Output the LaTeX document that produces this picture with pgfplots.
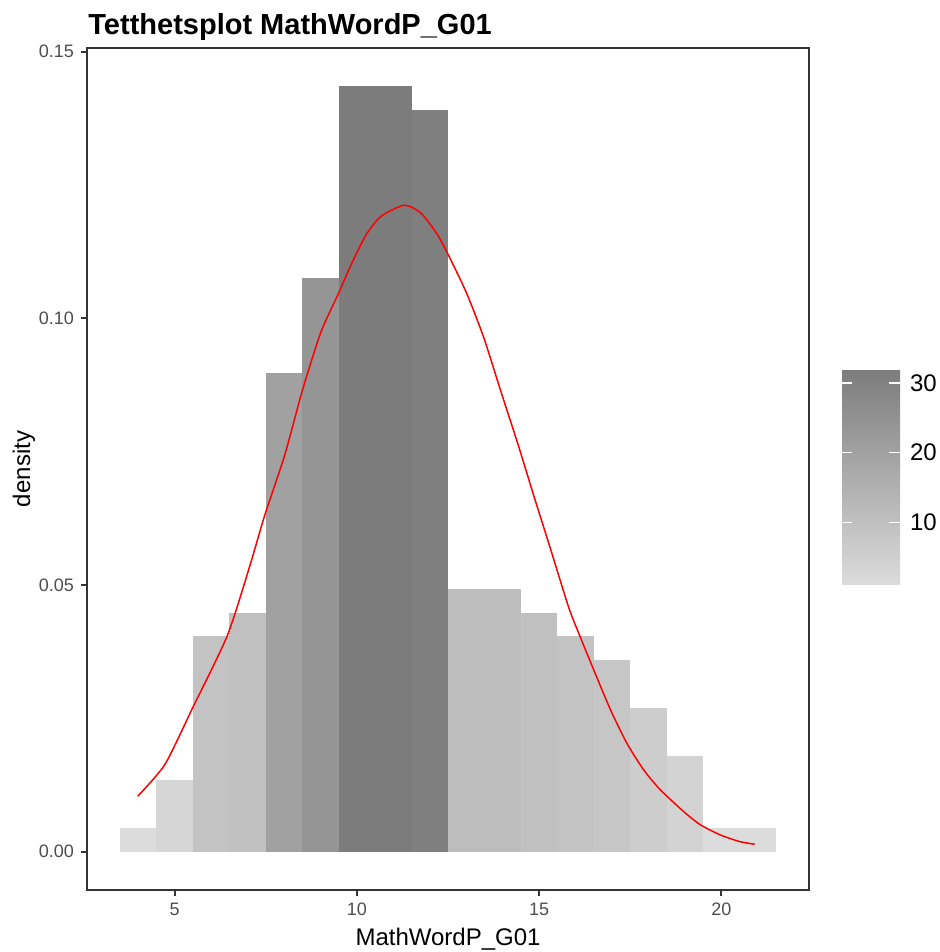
\documentclass[border=0pt]{standalone}
\usepackage{fontspec}
\setmainfont{Liberation Sans}
\usepackage{pgfplots}
\pgfplotsset{compat=1.18}
\definecolor{axgrey}{HTML}{333333}
\definecolor{tickgrey}{HTML}{4D4D4D}
\definecolor{cA}{RGB}{220,220,220}
\definecolor{cB}{RGB}{214,214,214}
\definecolor{cC}{RGB}{211,211,211}
\definecolor{cD}{RGB}{205,205,205}
\definecolor{cE}{RGB}{198,198,198}
\definecolor{cF}{RGB}{195,195,195}
\definecolor{cG}{RGB}{192,192,192}
\definecolor{cH}{RGB}{189,189,189}
\definecolor{cI}{RGB}{161,161,161}
\definecolor{cJ}{RGB}{149,149,149}
\definecolor{cK}{RGB}{127,127,127}
\definecolor{cL}{RGB}{124,124,124}
\pgfplotsset{/pgf/number format/assume math mode=true}
\begin{document}
\begin{tikzpicture}
\useasboundingbox (0,0) rectangle (469.5pt,476pt);
\node[anchor=base west, font=\bfseries\fontsize{14.5}{16}\selectfont, inner sep=0pt] at (44pt,458.5pt) {Tetthetsplot MathWordP\_G01};
\begin{axis}[
  at={(43.5pt,31pt)}, anchor=south west,
  scale only axis, width=361pt, height=421pt,
  xmin=2.6, xmax=22.4, ymin=-0.007175, ymax=0.150673,
  xtick={5,10,15,20}, ytick={0,0.05,0.1,0.15},
  tick align=outside, xtick pos=bottom, ytick pos=left,
  major tick length=3pt,
  every tick/.style={axgrey, line width=1pt},
  axis line style={axgrey, line width=1pt},
  ticklabel style={font=\fontsize{9}{10}\selectfont, text=tickgrey},
  yticklabel style={/pgf/number format/.cd, fixed, fixed zerofill, precision=2},
  xlabel={MathWordP\_G01}, ylabel={density},
  label style={font=\fontsize{12}{14}\selectfont},
  xlabel style={at={(axis description cs:0.5,-0.0665)}, anchor=base},
  ylabel style={at={(axis description cs:-0.0873,0.5)}, anchor=center},
  colormap={ggrey}{rgb255=(220,220,220) rgb255=(124,124,124)},
  point meta min=1, point meta max=32,
  colorbar,
  colorbar/width=29pt,
  colorbar style={
    at={(parent axis.south east)}, anchor=south west,
    xshift=8pt, yshift=152.5pt,
    scale only axis, width=29pt, height=108pt,
    ytick={10,20,30}, ytick pos=both, yticklabel pos=right,
    tick align=inside, major tick length=5pt,
    every tick/.style={white, line width=0.75pt},
    axis line style={draw=none},
    axis on top,
    yticklabel style={font=\fontsize{12}{14}\selectfont, text=black, xshift=1.5pt},
    after end axis/.code={
      \draw[white, line width=0.75pt] (rel axis cs:1,0.2903) -- ++(-5.5pt,0);
      \draw[white, line width=0.75pt] (rel axis cs:1,0.6129) -- ++(-5.5pt,0);
      \draw[white, line width=0.75pt] (rel axis cs:1,0.9355) -- ++(-5.5pt,0);
    },
  },
]
\addplot[ybar, bar width=1, bar shift=0, draw=none, fill=cA] coordinates {(4,0.004484)};
\addplot[ybar, bar width=1, bar shift=0, draw=none, fill=cB] coordinates {(5,0.013453)};
\addplot[ybar, bar width=1, bar shift=0, draw=none, fill=cF] coordinates {(6,0.040359)};
\addplot[ybar, bar width=1, bar shift=0, draw=none, fill=cG] coordinates {(7,0.044843)};
\addplot[ybar, bar width=1, bar shift=0, draw=none, fill=cI] coordinates {(8,0.089686)};
\addplot[ybar, bar width=1, bar shift=0, draw=none, fill=cJ] coordinates {(9,0.107623)};
\addplot[ybar, bar width=1, bar shift=0, draw=none, fill=cL] coordinates {(10,0.143498)};
\addplot[ybar, bar width=1, bar shift=0, draw=none, fill=cL] coordinates {(11,0.143498)};
\addplot[ybar, bar width=1, bar shift=0, draw=none, fill=cK] coordinates {(12,0.139013)};
\addplot[ybar, bar width=1, bar shift=0, draw=none, fill=cH] coordinates {(13,0.049327)};
\addplot[ybar, bar width=1, bar shift=0, draw=none, fill=cH] coordinates {(14,0.049327)};
\addplot[ybar, bar width=1, bar shift=0, draw=none, fill=cG] coordinates {(15,0.044843)};
\addplot[ybar, bar width=1, bar shift=0, draw=none, fill=cF] coordinates {(16,0.040359)};
\addplot[ybar, bar width=1, bar shift=0, draw=none, fill=cE] coordinates {(17,0.035874)};
\addplot[ybar, bar width=1, bar shift=0, draw=none, fill=cD] coordinates {(18,0.026906)};
\addplot[ybar, bar width=1, bar shift=0, draw=none, fill=cC] coordinates {(19,0.017937)};
\addplot[ybar, bar width=1, bar shift=0, draw=none, fill=cA] coordinates {(20,0.004484)};
\addplot[ybar, bar width=1, bar shift=0, draw=none, fill=cA] coordinates {(21,0.004484)};
\addplot[red, line width=0.75pt, smooth, tension=0.4] coordinates {
(3.99,0.0104) (4.74,0.0164) (5.52,0.0273) (6.02,0.0342) (6.43,0.0402)
(6.70,0.0455) (7.11,0.0546) (7.48,0.0632) (8.02,0.0743)
(8.52,0.0868) (9.02,0.0975) (9.48,0.1044) (9.84,0.1100) (10.25,0.1156)
(10.66,0.1191) (11.30,0.1212) (11.76,0.1197) (12.21,0.1157) (12.58,0.1109)
(13.03,0.1044) (13.49,0.0962) (13.94,0.0865) (14.40,0.0768) (14.85,0.0668)
(15.31,0.0568) (15.81,0.0458) (16.13,0.0402) (16.49,0.0342) (16.95,0.0267)
(17.40,0.0204) (17.86,0.0154) (18.31,0.0117) (18.95,0.0076) (19.41,0.0051)
(19.95,0.0032) (20.50,0.0019) (20.91,0.0014)};
\end{axis}
\end{tikzpicture}
\end{document}
